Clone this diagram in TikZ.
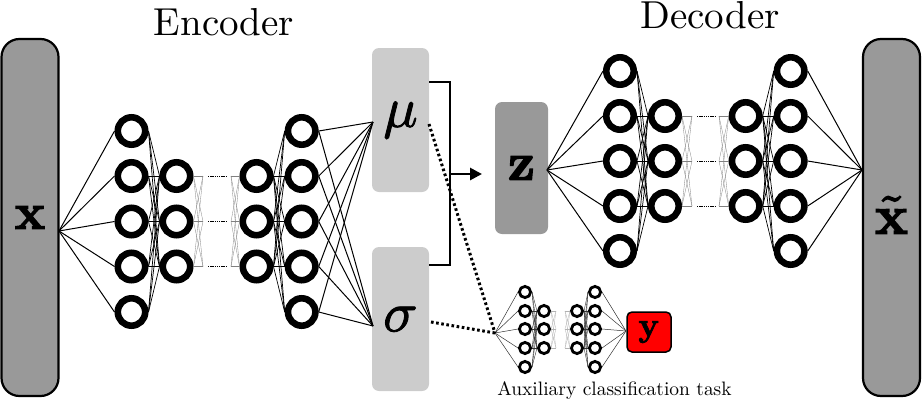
\documentclass[tikz,border=0pt]{standalone}
\usetikzlibrary{arrows.meta}
\newcommand{\heavy}[2]{\special{pdf:code 2 Tr #1 w}#2\special{pdf:code 0 Tr}}
\tikzset{
  x=1pt,y=-1pt,
  ring/.style={circle,draw=black,line width=6.6pt,minimum size=27.4pt,inner sep=0pt},
  minring/.style={circle,draw=black,line width=2.8pt,minimum size=11.2pt,inner sep=0pt},
  bar/.style={draw=black,line width=2.2pt,fill=black!40,rounded corners=18pt,minimum width=57pt,minimum height=357pt,inner sep=0pt},
  latentbox/.style={fill=black!20,rounded corners=7pt,minimum width=57pt,minimum height=144pt,inner sep=0pt},
  zbox/.style={fill=black!40,rounded corners=7pt,minimum width=53pt,minimum height=132pt,inner sep=0pt},
  ybox/.style={draw=black,line width=1.5pt,fill=red,rounded corners=5pt,minimum width=44pt,minimum height=40pt,inner sep=0pt},
  conn/.style={line width=1pt},
  hid/.style={line width=.7pt,black},
  stub/.style={line width=.3pt,black!50},
  gap/.style={line width=.8pt,dash pattern=on 1.3pt off .9pt},
  aconn/.style={line width=.5pt,black!80},
  ahid/.style={line width=.4pt,black!80},
  astub/.style={line width=.3pt,black!30},
  dots/.style={line width=3pt,dash pattern=on 2.6pt off 2.6pt},
}
\begin{document}
\begin{tikzpicture}
\useasboundingbox (0,0) rectangle (922,402);
% boxes
\node[bar] (X) at (30,217.5) {\raisebox{-12.5pt}{\scalebox{5.1}{\heavy{.25}{$\mathbf{x}$}}}};
\node[bar] (XT) at (891.5,217.5) {\raisebox{5pt}{\scalebox{5.5}{\heavy{.25}{$\tilde{\mathbf{x}}$}}}};
\node[latentbox] (MU) at (400.5,120) {\scalebox{5.7}{\heavy{.15}{$\mu$}}};
\node[latentbox] (SG) at (400.5,319) {\raisebox{-2pt}{\scalebox{5.7}{\heavy{.15}{$\sigma$}}}};
\node[zbox] (Z) at (521.5,168) {\scalebox{5.3}{\heavy{.25}{$\mathbf{z}$}}};
\node[ybox] (Y) at (649,332) {\scalebox{3.4}{\heavy{.2}{$\mathbf{y}$}}};
% free ends
\coordinate (xp) at (59,231);
\coordinate (mup) at (373,122);
\coordinate (sgp) at (373,326);
\coordinate (zp) at (547,170);
\coordinate (xtp) at (862,170);
\coordinate (aux) at (495,333);
\coordinate (auxr) at (626,331);
\coordinate (muo) at (429,82);
\coordinate (sgo) at (429,265);
\coordinate (mid) at (450,174);
\coordinate (cnr1) at (450,82);
\coordinate (cnr2) at (450,265);
\coordinate (zin) at (482,174);
\coordinate (mud) at (429,124);
\coordinate (sgd) at (431,322);
% Encoder nodes
\foreach \i/\y in {1/131,2/176,3/221.5,4/266.5,5/312}{
  \node[ring] (ea\i) at (131.5,\y) {};
  \node[ring] (ed\i) at (301.7,\y) {};
}
\foreach \i/\y in {2/176,3/221.5,4/266.5}{
  \node[ring] (eb\i) at (176.5,\y) {};
  \node[ring] (ec\i) at (256.5,\y) {};
  \coordinate (ebs\i) at (203,\y);
  \coordinate (ecs\i) at (231,\y);
  \coordinate (egl\i) at (208,\y);
  \coordinate (egr\i) at (226,\y);
}
% Decoder nodes
\foreach \i/\y in {1/71,2/116,3/161,4/206,5/251}{
  \node[ring] (da\i) at (620,\y) {};
  \node[ring] (dd\i) at (790.7,\y) {};
}
\foreach \i/\y in {2/116,3/161,4/206}{
  \node[ring] (db\i) at (665,\y) {};
  \node[ring] (dc\i) at (745.7,\y) {};
  \coordinate (dbs\i) at (692,\y);
  \coordinate (dcs\i) at (719,\y);
  \coordinate (dgl\i) at (697,\y);
  \coordinate (dgr\i) at (715,\y);
}
% Auxiliary nodes
\foreach \i/\y in {1/292,2/311,3/329,4/348,5/367}{
  \node[minring] (aa\i) at (525,\y) {};
  \node[minring] (ad\i) at (595,\y) {};
}
\foreach \i/\y in {2/311,3/329,4/348}{
  \node[minring] (ab\i) at (544,\y) {};
  \node[minring] (ac\i) at (577,\y) {};
  \coordinate (abs\i) at (556,\y);
  \coordinate (acs\i) at (565,\y);
}
% connectors
\foreach \i in {1,...,5}{
  \draw[conn] (xp) -- (ea\i.west);
  \draw[conn] (ed\i.east) -- (mup);
  \draw[conn] (ed\i.east) -- (sgp);
  \draw[conn] (zp) -- (da\i.west);
  \draw[conn] (dd\i.east) -- (xtp);
  \draw[aconn] (aux) -- (aa\i.west);
  \draw[aconn] (ad\i.east) -- (auxr);
  \foreach \j in {2,3,4}{
    \draw[hid] (ea\i.east) -- (eb\j.west);
    \draw[hid] (ec\j.east) -- (ed\i.west);
    \draw[hid] (da\i.east) -- (db\j.west);
    \draw[hid] (dc\j.east) -- (dd\i.west);
    \draw[ahid] (aa\i.east) -- (ab\j.west);
    \draw[ahid] (ac\j.east) -- (ad\i.west);
  }
}
\foreach \i in {2,3,4}{
  \draw[gap] (egl\i) -- (egr\i);
  \draw[gap] (dgl\i) -- (dgr\i);
  \foreach \j in {2,3,4}{
    \draw[stub] (eb\i.east) -- (ebs\j);
    \draw[stub] (ecs\j) -- (ec\i.west);
    \draw[stub] (db\i.east) -- (dbs\j);
    \draw[stub] (dcs\j) -- (dc\i.west);
    \draw[astub] (ab\i.east) -- (abs\j);
    \draw[astub] (acs\j) -- (ac\i.west);
  }
}
% bracket
\draw[line width=2.8pt,line join=miter] (muo) -- (cnr1) -- (cnr2) -- (sgo);
\draw[line width=2.8pt,-{Triangle[length=12pt,width=12pt]}] (mid) -- (zin);
% dotted
\draw[dots] (mud) -- (aux);
\draw[dots] (sgd) -- (aux);
% labels
\node (enc) at (224,22) {\scalebox{3.9}{Encoder}};
\node (dec) at (710,15) {\scalebox{3.9}{Decoder}};
\node (auxl) at (614.5,391) {\scalebox{1.945}{Auxiliary classification task}};
\end{tikzpicture}
\end{document}
